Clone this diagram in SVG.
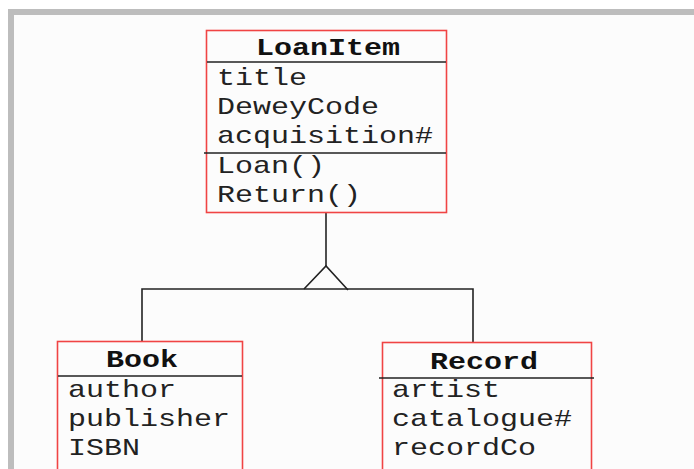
<svg xmlns="http://www.w3.org/2000/svg" width="694" height="469" viewBox="0 0 694 469">
<style>
.box{fill:none;stroke:#f04444;stroke-width:1.6}
.sep{stroke:#222;stroke-width:1.4}
.t{font-family:"Liberation Mono","Courier New",monospace;font-size:24px;fill:#222}
.h{font-family:"Liberation Mono","Courier New",monospace;font-size:24px;font-weight:bold;fill:#111;text-anchor:middle}
.c{fill:none;stroke:#222;stroke-width:1.6}
</style>
<rect width="694" height="469" fill="#ffffff"/>
<rect x="11" y="12" width="683" height="457" fill="#fcfcfc"/>
<path d="M11 469 V12 H694" fill="none" stroke="#bdbdbd" stroke-width="6"/>
<g id="connectors">
<path class="c" d="M326 213 V266"/>
<path class="c" d="M304 289 L326 266 L348 290"/>
<path class="c" d="M142 341 V289 H473 V343"/>
</g>
<g id="LoanItem">
<rect class="box" x="206.5" y="30.5" width="240" height="182"/>
<line class="sep" x1="207" y1="62" x2="446" y2="62"/>
<line class="sep" x1="204" y1="153" x2="446" y2="153"/>
<text class="h" transform="translate(328,55) scale(1.25,1)">LoanItem</text>
<text class="t" transform="translate(217,85) scale(1.25,1)">title</text>
<text class="t" transform="translate(217,114) scale(1.25,1)">DeweyCode</text>
<text class="t" transform="translate(217,143) scale(1.25,1)">acquisition#</text>
<text class="t" transform="translate(217,173) scale(1.25,1)">Loan()</text>
<text class="t" transform="translate(217,202) scale(1.25,1)">Return()</text>
</g>
<g id="Book">
<rect class="box" x="57.5" y="341.5" width="185" height="140"/>
<line class="sep" x1="58" y1="376" x2="242" y2="376"/>
<text class="h" transform="translate(142,367) scale(1.25,1)">Book</text>
<text class="t" transform="translate(68,397) scale(1.25,1)">author</text>
<text class="t" transform="translate(68,426) scale(1.25,1)">publisher</text>
<text class="t" transform="translate(68,455) scale(1.25,1)">ISBN</text>
</g>
<g id="Record">
<rect class="box" x="382.5" y="342.5" width="209" height="140"/>
<line class="sep" x1="379" y1="378" x2="594" y2="378"/>
<text class="h" transform="translate(484,369) scale(1.25,1)">Record</text>
<text class="t" transform="translate(392,397) scale(1.25,1)">artist</text>
<text class="t" transform="translate(392,426) scale(1.25,1)">catalogue#</text>
<text class="t" transform="translate(392,455) scale(1.25,1)">recordCo</text>
</g>
</svg>
